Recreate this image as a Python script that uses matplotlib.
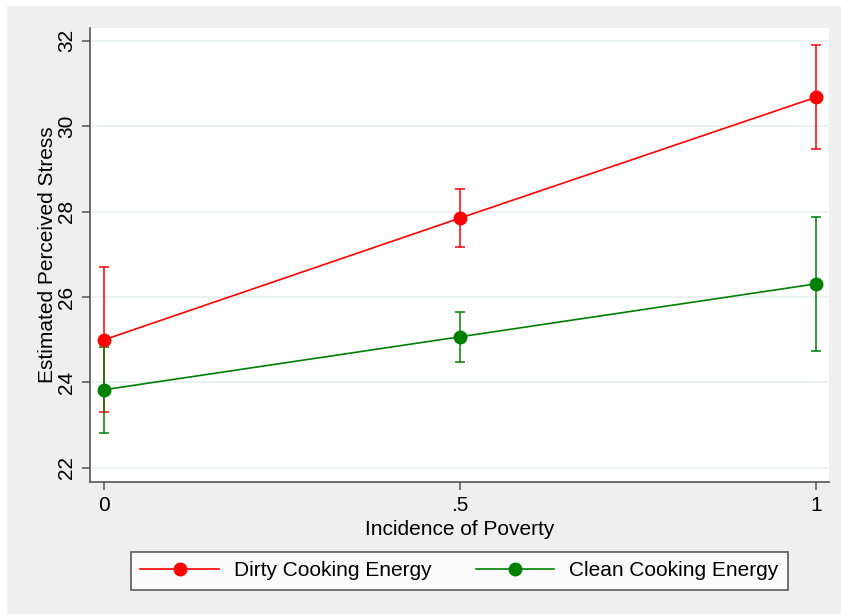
import numpy as np
import matplotlib
matplotlib.use('Agg')
import matplotlib.pyplot as plt
from matplotlib.patches import Rectangle

plt.rcParams['font.family'] = ['Liberation Sans', 'DejaVu Sans']

# data
poverty = [0, 0.5, 1]
dirty_mean = [25.00, 27.85, 30.68]
dirty_lo = [23.31, 27.18, 29.47]
dirty_hi = [26.70, 28.53, 31.91]
clean_mean = [23.83, 25.07, 26.31]
clean_lo = [22.82, 24.48, 24.74]
clean_hi = [24.83, 25.64, 27.88]
xtick_labels = ['0', '.5', '1']
yticks = [22, 24, 26, 28, 30, 32]

fig = plt.figure(figsize=(8.41, 6.14), dpi=100)
fig.patch.set_facecolor('white')
fig.patches.append(Rectangle((7/841, 0), 1, (614-6)/614, transform=fig.transFigure,
                             facecolor='#efefef', edgecolor='none', zorder=-10))

ax = fig.add_axes([90/841, 1-482/614, (829-90)/841, (482-28)/614])
ax.set_facecolor('white')

for mean, lo, hi, col, lab in [(dirty_mean, dirty_lo, dirty_hi, '#ff0000', 'Dirty Cooking Energy'),
                               (clean_mean, clean_lo, clean_hi, '#008000', 'Clean Cooking Energy')]:
    mean = np.array(mean)
    err = [mean - np.array(lo), np.array(hi) - mean]
    ax.errorbar(poverty, mean, yerr=err, fmt='none', ecolor=col, elinewidth=1.1,
                capsize=3.8, capthick=1.1, zorder=3)
    ax.plot(poverty, mean, color=col, lw=1.2, marker='o', ms=9, label=lab, zorder=4)

ax.set_xlim(-0.0197, 1.018)
ax.set_ylim(21.67, 32.3)
ax.set_yticks(yticks)
ax.set_yticklabels([str(t) for t in yticks], rotation=90, va='center')
ax.set_xticks(poverty)
ax.set_xticklabels(xtick_labels)
ax.grid(axis='y', color='#e8f0f2', lw=1.2, zorder=0)
ax.set_axisbelow(True)
for s in ['top', 'right']:
    ax.spines[s].set_visible(False)
for s in ['left', 'bottom']:
    ax.spines[s].set_color('#555555')
    ax.spines[s].set_linewidth(1.2)
ax.tick_params(axis='both', length=6, width=1.1, color='#555555', labelsize=15, pad=4)
ax.set_xlabel('Incidence of Poverty', fontsize=15, labelpad=4)
ax.set_ylabel('Estimated Perceived Stress', fontsize=15, labelpad=0)

leg = fig.legend(loc='center', bbox_to_anchor=(459.5/841, 43/614), ncol=2, fontsize=15,
                 frameon=True, fancybox=False, handlelength=3.75, columnspacing=2.1,
                 borderpad=0.45, handletextpad=0.75)
leg.get_frame().set_edgecolor('#333333')
leg.get_frame().set_linewidth(1.2)
leg.get_frame().set_facecolor('white')

fig.savefig('out.png', dpi=100, facecolor=fig.get_facecolor())
